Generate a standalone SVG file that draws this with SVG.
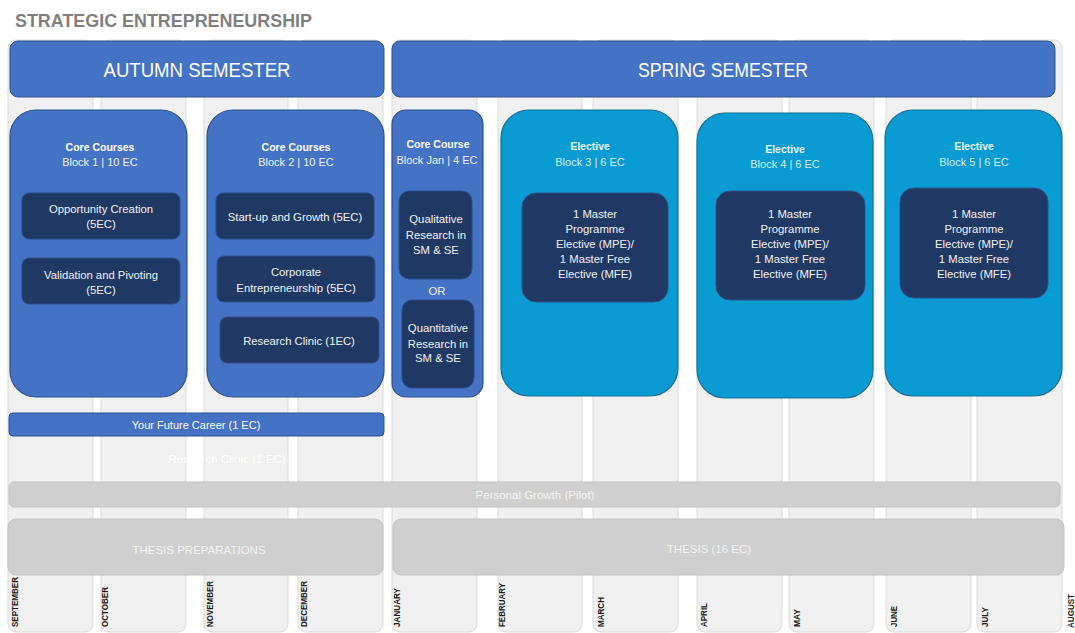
<svg xmlns="http://www.w3.org/2000/svg" width="1075" height="633" viewBox="0 0 1075 633">
<style>
text{font-family:"Liberation Sans",Arial,sans-serif;}
.col{fill:#F0F0F0;stroke:#DADADA;stroke-width:1;}
.hdr{fill:#4472C4;stroke:#2F528F;stroke-width:1;}
.hdrt{fill:#FFFFFF;font-size:20px;text-anchor:middle;}
.core{fill:#4472C4;stroke:#2F528F;stroke-width:1.2;}
.elec{fill:#0A9BD2;stroke:#1A6E96;stroke-width:1.2;}
.inner{fill:#1F3864;stroke:#2D4F88;stroke-width:1;}
.h1{fill:#FFFFFF;font-size:10.5px;font-weight:bold;text-anchor:middle;}
.h2{fill:#F0F4FB;font-size:11px;text-anchor:middle;}
.eh1{fill:#EAF7FD;font-size:10.5px;font-weight:bold;text-anchor:middle;}
.eh2{fill:#D2EFFB;font-size:11px;text-anchor:middle;}
.it{fill:#F2F2F2;font-size:11.3px;text-anchor:middle;}
.bar{fill:#CFCFCF;stroke:#C4C4C4;stroke-width:1;}
.bart{fill:#F4F4F4;font-size:11.5px;text-anchor:middle;}
.mon{fill:#1A1A1A;font-size:9.5px;font-weight:bold;}
</style>
<rect x="0" y="0" width="1075" height="633" fill="#FFFFFF"/>
<g id="month-columns">
<rect class="col" x="8" y="40" width="85" height="592" rx="8"/>
<rect class="col" x="101" y="40" width="85" height="592" rx="8"/>
<rect class="col" x="204" y="40" width="84" height="592" rx="8"/>
<rect class="col" x="298" y="40" width="85" height="592" rx="8"/>
<rect class="col" x="392" y="40" width="85" height="592" rx="8"/>
<rect class="col" x="498" y="40" width="84" height="592" rx="8"/>
<rect class="col" x="593" y="40" width="85" height="592" rx="8"/>
<rect class="col" x="697" y="40" width="85" height="592" rx="8"/>
<rect class="col" x="789" y="40" width="85" height="592" rx="8"/>
<rect class="col" x="886" y="40" width="85" height="592" rx="8"/>
<rect class="col" x="977" y="40" width="85" height="592" rx="8"/>
</g>
<g id="title">
<text x="15" y="27" font-size="18.5" font-weight="bold" fill="#7F7F7F" textLength="297" lengthAdjust="spacingAndGlyphs">STRATEGIC ENTREPRENEURSHIP</text>
</g>
<g id="autumn-semester">
<rect class="hdr" x="10" y="41" width="374" height="56" rx="8"/>
<text class="hdrt" x="197" y="77" textLength="187" lengthAdjust="spacingAndGlyphs">AUTUMN SEMESTER</text>
</g>
<g id="spring-semester">
<rect class="hdr" x="392" y="41" width="663" height="56" rx="8"/>
<text class="hdrt" x="723" y="77" textLength="170" lengthAdjust="spacingAndGlyphs">SPRING SEMESTER</text>
</g>
<g id="block1">
<rect class="core" x="10" y="110" width="177" height="287" rx="26"/>
<text class="h1" x="100" y="151">Core Courses</text>
<text class="h2" x="100" y="166">Block 1 | 10 EC</text>
</g>
<g id="opportunity-creation">
<rect class="inner" x="22" y="193" width="158" height="46" rx="7"/>
<text class="it" x="101" y="213">Opportunity Creation</text>
<text class="it" x="101" y="228">(5EC)</text>
</g>
<g id="validation-pivoting">
<rect class="inner" x="22" y="258" width="158" height="46" rx="7"/>
<text class="it" x="101" y="279">Validation and Pivoting</text>
<text class="it" x="101" y="294">(5EC)</text>
</g>
<g id="block2">
<rect class="core" x="207" y="110" width="177" height="287" rx="26"/>
<text class="h1" x="296" y="151">Core Courses</text>
<text class="h2" x="296" y="166">Block 2 | 10 EC</text>
</g>
<g id="startup-growth">
<rect class="inner" x="216" y="193" width="158" height="46" rx="7"/>
<text class="it" x="295" y="221">Start-up and Growth (5EC)</text>
</g>
<g id="corporate-entrepreneurship">
<rect class="inner" x="217" y="256" width="158" height="46" rx="7"/>
<text class="it" x="296" y="276">Corporate</text>
<text class="it" x="296" y="292">Entrepreneurship (5EC)</text>
</g>
<g id="research-clinic">
<rect class="inner" x="220" y="317" width="159" height="46" rx="7"/>
<text class="it" x="299" y="345">Research Clinic (1EC)</text>
</g>
<g id="block-jan">
<rect class="core" x="392" y="110" width="91" height="287" rx="14"/>
<text class="h1" x="438" y="148">Core Course</text>
<text class="h2" x="437" y="164">Block Jan | 4 EC</text>
<text class="it" x="437" y="295">OR</text>
</g>
<g id="qualitative-research">
<rect class="inner" x="399" y="191" width="73" height="88" rx="10"/>
<text class="it" x="436" y="223">Qualitative</text>
<text class="it" x="436" y="239">Research in</text>
<text class="it" x="436" y="254">SM &amp; SE</text>
</g>
<g id="quantitative-research">
<rect class="inner" x="402" y="300" width="72" height="88" rx="10"/>
<text class="it" x="438" y="332">Quantitative</text>
<text class="it" x="438" y="348">Research in</text>
<text class="it" x="438" y="362">SM &amp; SE</text>
</g>
<g id="block3">
<rect class="elec" x="501" y="110" width="177" height="286" rx="28"/>
<text class="eh1" x="590" y="150">Elective</text>
<text class="eh2" x="590" y="166">Block 3 | 6 EC</text>
<rect class="inner" x="522" y="193" width="146" height="109" rx="14"/>
<text class="it" x="595" y="218">1 Master</text>
<text class="it" x="595" y="233">Programme</text>
<text class="it" x="595" y="248">Elective (MPE)/</text>
<text class="it" x="595" y="263">1 Master Free</text>
<text class="it" x="595" y="278">Elective (MFE)</text>
</g>
<g id="block4">
<rect class="elec" x="697" y="113" width="176" height="285" rx="28"/>
<text class="eh1" x="785" y="153">Elective</text>
<text class="eh2" x="785" y="168">Block 4 | 6 EC</text>
<rect class="inner" x="716" y="191" width="149" height="109" rx="14"/>
<text class="it" x="790" y="218">1 Master</text>
<text class="it" x="790" y="233">Programme</text>
<text class="it" x="790" y="248">Elective (MPE)/</text>
<text class="it" x="790" y="263">1 Master Free</text>
<text class="it" x="790" y="278">Elective (MFE)</text>
</g>
<g id="block5">
<rect class="elec" x="885" y="110" width="177" height="286" rx="28"/>
<text class="eh1" x="974" y="150">Elective</text>
<text class="eh2" x="974" y="166">Block 5 | 6 EC</text>
<rect class="inner" x="900" y="188" width="148" height="110" rx="14"/>
<text class="it" x="974" y="218">1 Master</text>
<text class="it" x="974" y="233">Programme</text>
<text class="it" x="974" y="248">Elective (MPE)/</text>
<text class="it" x="974" y="263">1 Master Free</text>
<text class="it" x="974" y="278">Elective (MFE)</text>
</g>
<g id="future-career">
<rect x="9" y="413" width="375" height="23" rx="4" fill="#4472C4" stroke="#2F528F" stroke-width="1"/>
<text x="196" y="429" fill="#FFFFFF" font-size="11" text-anchor="middle">Your Future Career (1 EC)</text>
</g>
<g id="research-clinic-ghost">
<text x="227" y="463" fill="#FFFFFF" font-size="11.5" text-anchor="middle">Research Clinic (1 EC)</text>
</g>
<g id="personal-growth">
<rect class="bar" x="9" y="482" width="1051" height="25" rx="5"/>
<text class="bart" x="535" y="499">Personal Growth (Pilot)</text>
</g>
<g id="thesis-preparations">
<rect class="bar" x="8" y="519" width="375" height="56" rx="8"/>
<text class="bart" x="199" y="554" font-size="10.5px">THESIS PREPARATIONS</text>
</g>
<g id="thesis">
<rect class="bar" x="393" y="519" width="671" height="56" rx="8"/>
<text class="bart" x="709" y="553" font-size="10.5px">THESIS (16 EC)</text>
</g>
<g id="month-labels">
<text class="mon" transform="translate(18,627) rotate(-90)" textLength="50" lengthAdjust="spacingAndGlyphs">SEPTEMBER</text>
<text class="mon" transform="translate(108,627) rotate(-90)" textLength="40" lengthAdjust="spacingAndGlyphs">OCTOBER</text>
<text class="mon" transform="translate(213,627) rotate(-90)" textLength="46" lengthAdjust="spacingAndGlyphs">NOVEMBER</text>
<text class="mon" transform="translate(307,627) rotate(-90)" textLength="46" lengthAdjust="spacingAndGlyphs">DECEMBER</text>
<text class="mon" transform="translate(400,627) rotate(-90)" textLength="39" lengthAdjust="spacingAndGlyphs">JANUARY</text>
<text class="mon" transform="translate(505,627) rotate(-90)" textLength="44" lengthAdjust="spacingAndGlyphs">FEBRUARY</text>
<text class="mon" transform="translate(604,627) rotate(-90)" textLength="30" lengthAdjust="spacingAndGlyphs">MARCH</text>
<text class="mon" transform="translate(707,627) rotate(-90)" textLength="24" lengthAdjust="spacingAndGlyphs">APRIL</text>
<text class="mon" transform="translate(800,627) rotate(-90)" textLength="18" lengthAdjust="spacingAndGlyphs">MAY</text>
<text class="mon" transform="translate(897,627) rotate(-90)" textLength="21" lengthAdjust="spacingAndGlyphs">JUNE</text>
<text class="mon" transform="translate(988,627) rotate(-90)" textLength="20" lengthAdjust="spacingAndGlyphs">JULY</text>
<text class="mon" transform="translate(1074,628) rotate(-90)" textLength="34" lengthAdjust="spacingAndGlyphs">AUGUST</text>
</g>
<g id="connectors"/>
</svg>
